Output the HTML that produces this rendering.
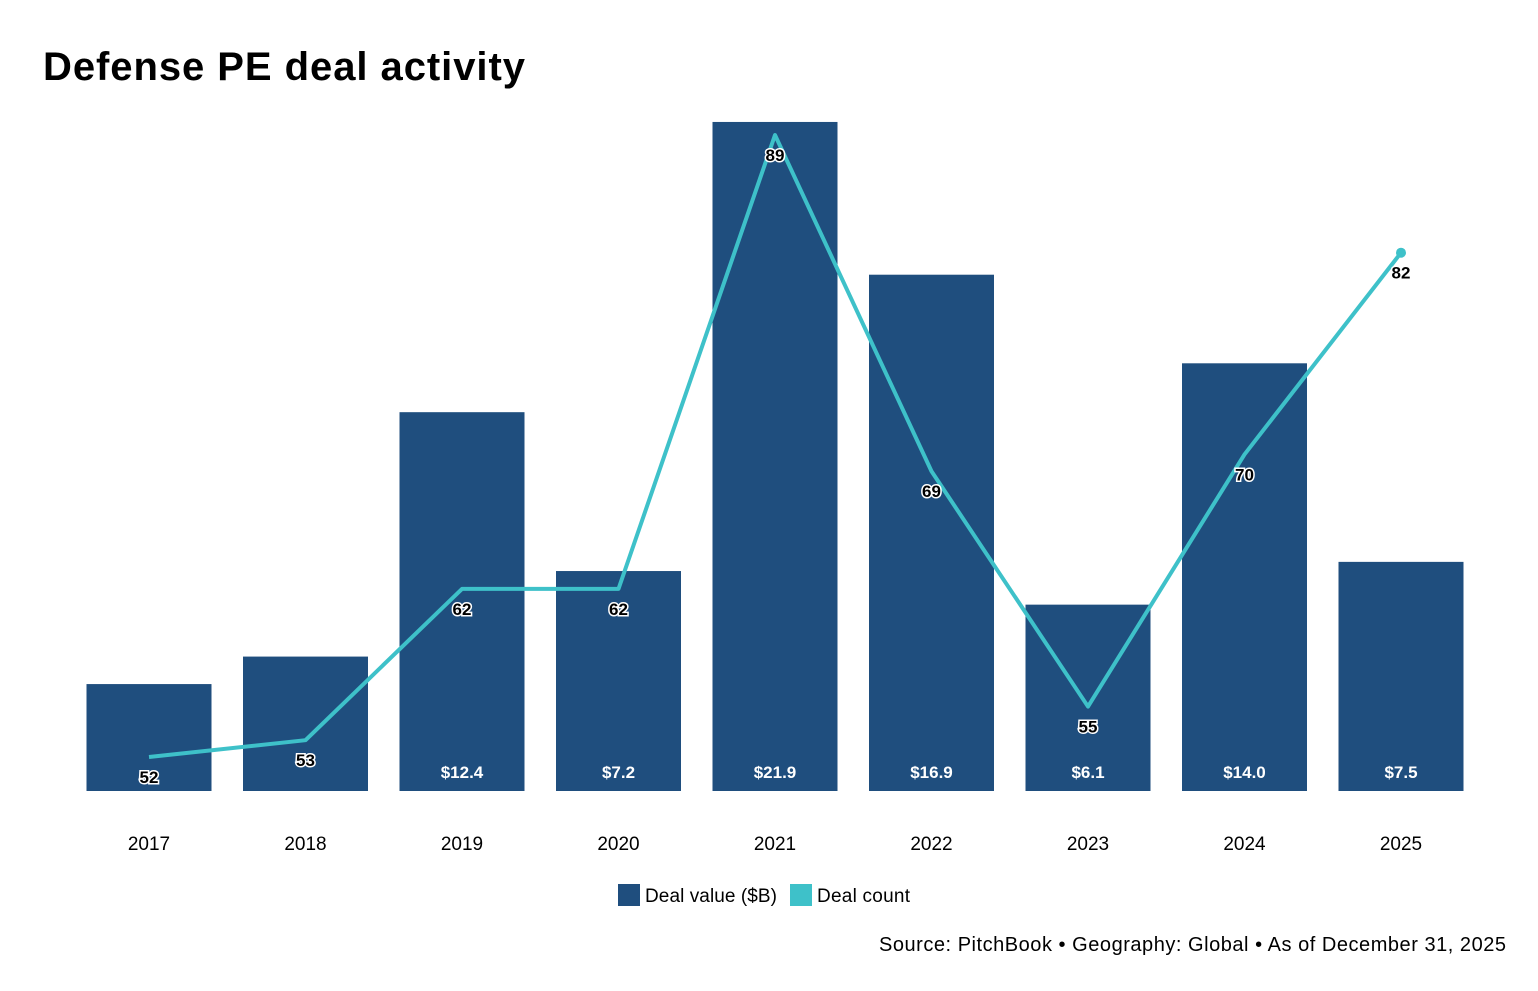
<!DOCTYPE html>
<html><head><meta charset="utf-8"><style>
body{margin:0;background:#fff;font-family:"Liberation Sans",sans-serif;}
svg text{font-family:"Liberation Sans",sans-serif;}
</style></head><body>
<svg id="chart" width="1538" height="986">
<text x="43" y="80" font-size="40" font-weight="bold" fill="#000" textLength="482">Defense PE deal activity</text>
<g id="bars"></g><g id="line"></g><g id="labels"></g><g id="xaxis"></g>
<g>
<rect x="618" y="884" width="22" height="22" fill="#1f4e7e"/>
<text x="645" y="902" font-size="19" fill="#000" textLength="132">Deal value ($B)</text>
<rect x="790" y="884" width="22" height="22" fill="#3ec1c9"/>
<text x="817" y="902" font-size="19" fill="#000" textLength="93">Deal count</text>
</g>
<text x="1506" y="951" font-size="20" text-anchor="end" fill="#000" textLength="627">Source: PitchBook • Geography: Global • As of December 31, 2025</text>
</svg>
<script>
const categories=["2017","2018","2019","2020","2021","2022","2023","2024","2025"];
const dealValues=[3.5,4.4,12.4,7.2,21.9,16.9,6.1,14.0,7.5];
const dealCounts=[52,53,62,62,89,69,55,70,82];
const valueLabels=["","","$12.4","$7.2","$21.9","$16.9","$6.1","$14.0","$7.5"];
const NS="http://www.w3.org/2000/svg";
const x0=149,step=156.5,barW=125,base=791;
const xPos=i=>x0+i*step;
const yVal=v=>base-v*30.55;
const yCnt=v=>757-(v-52)*16.81;
function mk(tag,attrs,parent){const e=document.createElementNS(NS,tag);for(const k in attrs)e.setAttribute(k,attrs[k]);parent.appendChild(e);return e;}
const gb=document.getElementById('bars'),gl=document.getElementById('line'),glab=document.getElementById('labels'),gx=document.getElementById('xaxis');
categories.forEach((c,i)=>{
  const r=mk('rect',{x:xPos(i)-barW/2,y:yVal(dealValues[i]),width:barW,height:base-yVal(dealValues[i]),fill:'#1f4e7e'},gb);
  
  
  const t=mk('text',{x:xPos(i),y:850,'font-size':19,'text-anchor':'middle',fill:'#000'},gx);
  t.textContent=c;
  
  
  if(valueLabels[i]){
    const v=mk('text',{x:xPos(i),y:778,'font-size':17,'font-weight':'bold','text-anchor':'middle',fill:'#fff'},glab);
    v.textContent=valueLabels[i];
    
    
  }
});
const pts=dealCounts.map((v,i)=>xPos(i)+','+yCnt(v)).join(' ');
const pl=mk('polyline',{points:pts,fill:'none',stroke:'#3ec1c9','stroke-width':4,'stroke-linejoin':'round'},gl);


const last=dealCounts.length-1;
const dot=mk('circle',{cx:xPos(last),cy:yCnt(dealCounts[last]),r:5,fill:'#3ec1c9'},gl);


dealCounts.forEach((v,i)=>{
  const t=mk('text',{x:xPos(i),y:yCnt(v)+26,'font-size':17,'font-weight':'bold','text-anchor':'middle',fill:'#000',stroke:'#fff','stroke-width':3,'paint-order':'stroke'},glab);
  t.textContent=v;
  
  
});
</script>
</body></html>
